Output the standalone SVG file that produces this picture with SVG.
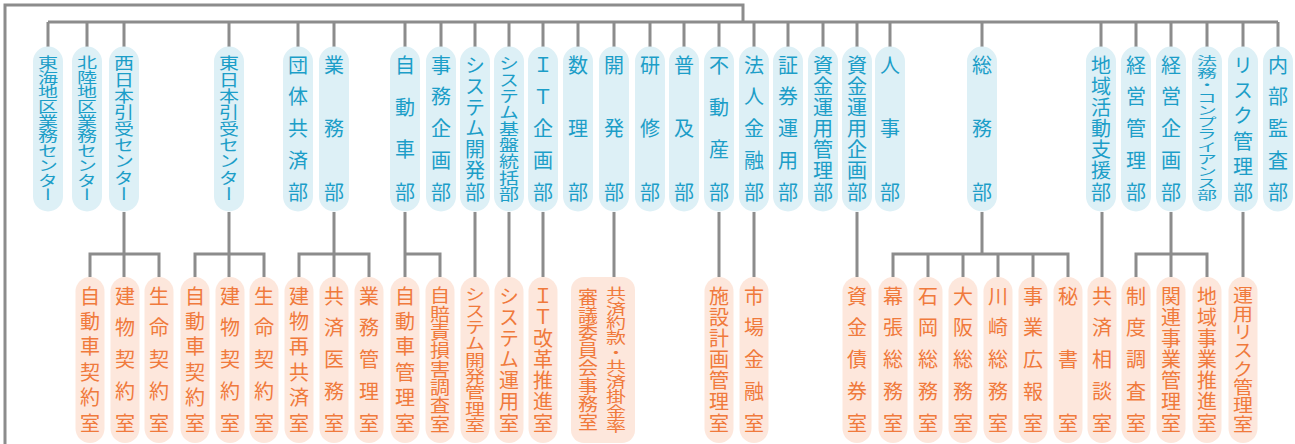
<svg xmlns="http://www.w3.org/2000/svg" width="1295" height="444" viewBox="0 0 1295 444">
<style>
.ln{fill:none;stroke:#8c8c8c;stroke-width:3}
.tp{fill:#ddf0f6}
.bp{fill:#fde7dc}
text{font-family:"Noto Sans CJK JP","Noto Sans CJK SC",sans-serif;font-size:20px;writing-mode:vertical-rl;text-anchor:start}
.tt{fill:#1c9ec8}
.bt{fill:#f07a3c}
</style>
<rect width="1295" height="444" fill="#ffffff"/>
<g id="connectors">
<path class="ln" d="M5,444 V5 H743 V22"/>
<path class="ln" d="M48,22 H1278"/>
<path class="ln" d="M48,22V47 M87,22V47 M124,22V47 M229,22V47 M298,22V47 M334,22V47 M405,22V47 M441,22V47 M475,22V47 M509,22V47 M543,22V47 M578,22V47 M614,22V47 M650,22V47 M684,22V47 M719,22V47 M754,22V47 M788,22V47 M823,22V47 M857,22V47 M890,22V47 M982,22V47 M1101,22V47 M1136,22V47 M1171,22V47 M1207,22V47 M1243,22V47 M1278,22V47"/>
<path class="ln" d="M124,212V277 M90,277V254H159V277"/>
<path class="ln" d="M229,212V277 M195,277V254H264V277"/>
<path class="ln" d="M334,212V277 M299,277V254H369V277"/>
<path class="ln" d="M405,212V277 M405,254H440V277"/>
<path class="ln" d="M475,212V277 M509,212V277 M543,212V277 M614,212V277 M719,212V277 M754,212V277 M857,212V277 M1102,212V277 M1243,212V277"/>
<path class="ln" d="M982,212V254 M893,277V254H1068V277 M928,254V277 M963,254V277 M998,254V277 M1033,254V277"/>
<path class="ln" d="M1171,212V277 M1136,277V254H1207V277"/>
</g>
<g id="t1"><rect class="tp" x="33" y="46.5" width="30" height="165" rx="15"/><text class="tt" transform="translate(48,55) scale(1,0.735)">東海地区業務センター</text></g>
<g id="t2"><rect class="tp" x="72" y="46.5" width="30" height="165" rx="15"/><text class="tt" transform="translate(87,55) scale(1,0.735)">北陸地区業務センター</text></g>
<g id="t3"><rect class="tp" x="109" y="46.5" width="30" height="165" rx="15"/><text class="tt" transform="translate(124,55) scale(1,0.8167)">西日本引受センター</text></g>
<g id="t4"><rect class="tp" x="214" y="46.5" width="30" height="165" rx="15"/><text class="tt" transform="translate(229,55) scale(1,0.8167)">東日本引受センター</text></g>
<g id="t5"><rect class="tp" x="283" y="46.5" width="30" height="165" rx="15"/><text class="tt" x="298" y="55" textLength="147" lengthAdjust="spacing">団体共済部</text></g>
<g id="t6"><rect class="tp" x="319" y="46.5" width="30" height="165" rx="15"/><text class="tt" x="334" y="55" textLength="147" lengthAdjust="spacing">業務部</text></g>
<g id="t7"><rect class="tp" x="390" y="46.5" width="30" height="165" rx="15"/><text class="tt" x="405" y="55" textLength="147" lengthAdjust="spacing">自動車部</text></g>
<g id="t8"><rect class="tp" x="426" y="46.5" width="30" height="165" rx="15"/><text class="tt" x="441" y="55" textLength="147" lengthAdjust="spacing">事務企画部</text></g>
<g id="t9"><rect class="tp" x="460" y="46.5" width="30" height="165" rx="15"/><text class="tt" x="475" y="55" textLength="147" lengthAdjust="spacing">システム開発部</text></g>
<g id="t10"><rect class="tp" x="494" y="46.5" width="30" height="165" rx="15"/><text class="tt" transform="translate(509,55) scale(1,0.8167)">システム基盤統括部</text></g>
<g id="t11"><rect class="tp" x="528" y="46.5" width="30" height="165" rx="15"/><text class="tt" x="543" y="55" textLength="147" lengthAdjust="spacing">ＩＴ企画部</text></g>
<g id="t12"><rect class="tp" x="563" y="46.5" width="30" height="165" rx="15"/><text class="tt" x="578" y="55" textLength="147" lengthAdjust="spacing">数理部</text></g>
<g id="t13"><rect class="tp" x="599" y="46.5" width="30" height="165" rx="15"/><text class="tt" x="614" y="55" textLength="147" lengthAdjust="spacing">開発部</text></g>
<g id="t14"><rect class="tp" x="635" y="46.5" width="30" height="165" rx="15"/><text class="tt" x="650" y="55" textLength="147" lengthAdjust="spacing">研修部</text></g>
<g id="t15"><rect class="tp" x="669" y="46.5" width="30" height="165" rx="15"/><text class="tt" x="684" y="55" textLength="147" lengthAdjust="spacing">普及部</text></g>
<g id="t16"><rect class="tp" x="704" y="46.5" width="30" height="165" rx="15"/><text class="tt" x="719" y="55" textLength="147" lengthAdjust="spacing">不動産部</text></g>
<g id="t17"><rect class="tp" x="739" y="46.5" width="30" height="165" rx="15"/><text class="tt" x="754" y="55" textLength="147" lengthAdjust="spacing">法人金融部</text></g>
<g id="t18"><rect class="tp" x="773" y="46.5" width="30" height="165" rx="15"/><text class="tt" x="788" y="55" textLength="147" lengthAdjust="spacing">証券運用部</text></g>
<g id="t19"><rect class="tp" x="808" y="46.5" width="30" height="165" rx="15"/><text class="tt" x="823" y="55" textLength="147" lengthAdjust="spacing">資金運用管理部</text></g>
<g id="t20"><rect class="tp" x="842" y="46.5" width="30" height="165" rx="15"/><text class="tt" x="857" y="55" textLength="147" lengthAdjust="spacing">資金運用企画部</text></g>
<g id="t21"><rect class="tp" x="875" y="46.5" width="30" height="165" rx="15"/><text class="tt" x="890" y="55" textLength="147" lengthAdjust="spacing">人事部</text></g>
<g id="t22"><rect class="tp" x="967" y="46.5" width="30" height="165" rx="15"/><text class="tt" x="982" y="55" textLength="147" lengthAdjust="spacing">総務部</text></g>
<g id="t23"><rect class="tp" x="1086" y="46.5" width="30" height="165" rx="15"/><text class="tt" x="1101" y="55" textLength="147" lengthAdjust="spacing">地域活動支援部</text></g>
<g id="t24"><rect class="tp" x="1121" y="46.5" width="30" height="165" rx="15"/><text class="tt" x="1136" y="55" textLength="147" lengthAdjust="spacing">経営管理部</text></g>
<g id="t25"><rect class="tp" x="1156" y="46.5" width="30" height="165" rx="15"/><text class="tt" x="1171" y="55" textLength="147" lengthAdjust="spacing">経営企画部</text></g>
<g id="t26"><rect class="tp" x="1192" y="46.5" width="30" height="165" rx="15"/><text class="tt" transform="translate(1207,55) scale(1,0.6125)">法務・コンプライアンス部</text></g>
<g id="t27"><rect class="tp" x="1228" y="46.5" width="30" height="165" rx="15"/><text class="tt" x="1243" y="55" textLength="147" lengthAdjust="spacing">リスク管理部</text></g>
<g id="t28"><rect class="tp" x="1263" y="46.5" width="30" height="165" rx="15"/><text class="tt" x="1278" y="55" textLength="147" lengthAdjust="spacing">内部監査部</text></g>

<g id="b1"><rect class="bp" x="75.5" y="277" width="29" height="166" rx="14.5"/><text class="bt" x="90" y="286" textLength="147" lengthAdjust="spacing">自動車契約室</text></g>
<g id="b2"><rect class="bp" x="110.5" y="277" width="29" height="166" rx="14.5"/><text class="bt" x="125" y="286" textLength="147" lengthAdjust="spacing">建物契約室</text></g>
<g id="b3"><rect class="bp" x="144.5" y="277" width="29" height="166" rx="14.5"/><text class="bt" x="159" y="286" textLength="147" lengthAdjust="spacing">生命契約室</text></g>
<g id="b4"><rect class="bp" x="180.5" y="277" width="29" height="166" rx="14.5"/><text class="bt" x="195" y="286" textLength="147" lengthAdjust="spacing">自動車契約室</text></g>
<g id="b5"><rect class="bp" x="215.5" y="277" width="29" height="166" rx="14.5"/><text class="bt" x="230" y="286" textLength="147" lengthAdjust="spacing">建物契約室</text></g>
<g id="b6"><rect class="bp" x="249.5" y="277" width="29" height="166" rx="14.5"/><text class="bt" x="264" y="286" textLength="147" lengthAdjust="spacing">生命契約室</text></g>
<g id="b7"><rect class="bp" x="284.5" y="277" width="29" height="166" rx="14.5"/><text class="bt" x="299" y="286" textLength="147" lengthAdjust="spacing">建物再共済室</text></g>
<g id="b8"><rect class="bp" x="319.5" y="277" width="29" height="166" rx="14.5"/><text class="bt" x="334" y="286" textLength="147" lengthAdjust="spacing">共済医務室</text></g>
<g id="b9"><rect class="bp" x="354.5" y="277" width="29" height="166" rx="14.5"/><text class="bt" x="369" y="286" textLength="147" lengthAdjust="spacing">業務管理室</text></g>
<g id="b10"><rect class="bp" x="390.5" y="277" width="29" height="166" rx="14.5"/><text class="bt" x="405" y="286" textLength="147" lengthAdjust="spacing">自動車管理室</text></g>
<g id="b11"><rect class="bp" x="425.5" y="277" width="29" height="166" rx="14.5"/><text class="bt" transform="translate(440,286) scale(1,0.91875)">自賠責損害調査室</text></g>
<g id="b12"><rect class="bp" x="460.5" y="277" width="29" height="166" rx="14.5"/><text class="bt" transform="translate(475,286) scale(1,0.8167)">システム開発管理室</text></g>
<g id="b13"><rect class="bp" x="494.5" y="277" width="29" height="166" rx="14.5"/><text class="bt" x="509" y="286" textLength="147" lengthAdjust="spacing">システム運用室</text></g>
<g id="b14"><rect class="bp" x="528.5" y="277" width="29" height="166" rx="14.5"/><text class="bt" x="543" y="286" textLength="147" lengthAdjust="spacing">ＩＴ改革推進室</text></g>
<g id="b15"><rect class="bp" x="571" y="277" width="64" height="166" rx="13"/><text class="bt" transform="translate(616,286) scale(1,0.735)">共済約款・共済掛金率</text><text class="bt" transform="translate(588,288) scale(1,0.89375)">審議委員会事務室</text></g>
<g id="b16"><rect class="bp" x="704.5" y="277" width="29" height="166" rx="14.5"/><text class="bt" x="719" y="286" textLength="147" lengthAdjust="spacing">施設計画管理室</text></g>
<g id="b17"><rect class="bp" x="739.5" y="277" width="29" height="166" rx="14.5"/><text class="bt" x="754" y="286" textLength="147" lengthAdjust="spacing">市場金融室</text></g>
<g id="b18"><rect class="bp" x="842.5" y="277" width="29" height="166" rx="14.5"/><text class="bt" x="857" y="286" textLength="147" lengthAdjust="spacing">資金債券室</text></g>
<g id="b19"><rect class="bp" x="878.5" y="277" width="29" height="166" rx="14.5"/><text class="bt" x="893" y="286" textLength="147" lengthAdjust="spacing">幕張総務室</text></g>
<g id="b20"><rect class="bp" x="913.5" y="277" width="29" height="166" rx="14.5"/><text class="bt" x="928" y="286" textLength="147" lengthAdjust="spacing">石岡総務室</text></g>
<g id="b21"><rect class="bp" x="948.5" y="277" width="29" height="166" rx="14.5"/><text class="bt" x="963" y="286" textLength="147" lengthAdjust="spacing">大阪総務室</text></g>
<g id="b22"><rect class="bp" x="983.5" y="277" width="29" height="166" rx="14.5"/><text class="bt" x="998" y="286" textLength="147" lengthAdjust="spacing">川崎総務室</text></g>
<g id="b23"><rect class="bp" x="1018.5" y="277" width="29" height="166" rx="14.5"/><text class="bt" x="1033" y="286" textLength="147" lengthAdjust="spacing">事業広報室</text></g>
<g id="b24"><rect class="bp" x="1053.5" y="277" width="29" height="166" rx="14.5"/><text class="bt" x="1068" y="286" textLength="147" lengthAdjust="spacing">秘書室</text></g>
<g id="b25"><rect class="bp" x="1087.5" y="277" width="29" height="166" rx="14.5"/><text class="bt" x="1102" y="286" textLength="147" lengthAdjust="spacing">共済相談室</text></g>
<g id="b26"><rect class="bp" x="1121.5" y="277" width="29" height="166" rx="14.5"/><text class="bt" x="1136" y="286" textLength="147" lengthAdjust="spacing">制度調査室</text></g>
<g id="b27"><rect class="bp" x="1156.5" y="277" width="29" height="166" rx="14.5"/><text class="bt" x="1171" y="286" textLength="147" lengthAdjust="spacing">関連事業管理室</text></g>
<g id="b28"><rect class="bp" x="1192.5" y="277" width="29" height="166" rx="14.5"/><text class="bt" x="1207" y="286" textLength="147" lengthAdjust="spacing">地域事業推進室</text></g>
<g id="b29"><rect class="bp" x="1228.5" y="277" width="29" height="166" rx="14.5"/><text class="bt" transform="translate(1243,286) scale(1,0.91875)">運用リスク管理室</text></g>
</svg>
